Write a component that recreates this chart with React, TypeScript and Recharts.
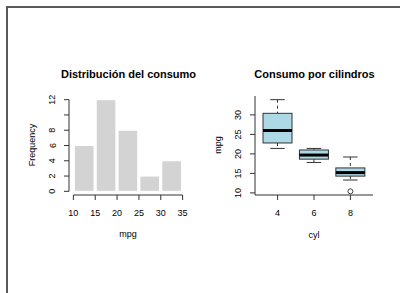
import React from 'react';
import { ComposedChart, Bar, Line, XAxis, YAxis, ReferenceLine } from 'recharts';

// Histogram data (mpg)
const binStarts = [10, 15, 20, 25, 30];
const binWidth = 5;
const histCounts = [6, 12, 8, 2, 4];
const histXTicks = [10, 15, 20, 25, 30, 35];
const histYTicks = [0, 2, 4, 6, 8, 10, 12];
const histYTickLabels = ['0', '2', '4', '6', '8', '', '12'];

// Boxplot data (mpg by cyl)
const cylinders = ['4', '6', '8'];
const whiskerLow = [21.4, 17.8, 13.3];
const lowerHinge = [22.8, 18.65, 14.3];
const medians = [26.0, 19.7, 15.2];
const upperHinge = [30.4, 21.0, 16.4];
const whiskerHigh = [33.9, 21.4, 19.2];
const outliers: (number | null)[] = [null, null, 10.4];
const boxYTicks = [10, 15, 20, 25, 30];

const histData = binStarts.map((s, i) => ({ mid: s + binWidth / 2, count: histCounts[i] }));
const boxData = cylinders.map((cyl, i) => ({
  cyl,
  range: [whiskerLow[i], whiskerHigh[i]],
  lo: whiskerLow[i],
  q1: lowerHinge[i],
  med: medians[i],
  q3: upperHinge[i],
  hi: whiskerHigh[i],
  outlier: outliers[i],
}));

const FONT = '"Liberation Sans", Arial, Helvetica, sans-serif';
const AX = '#333';
const W = 200;
const H = 293;
const MARGIN = { top: 96, right: 13, bottom: 68, left: 29 };
const HIST_X_DOMAIN: [number, number] = [9, 36];
const PLOT_W = W - MARGIN.left - MARGIN.right - 40;
const HIST_BAR_PX = (binWidth * PLOT_W) / (HIST_X_DOMAIN[1] - HIST_X_DOMAIN[0]);

const RotTick = (labels?: string[], values?: number[]) => (props: any) => {
  const { x, y, payload } = props;
  let txt = String(payload.value);
  if (labels && values) {
    const idx = values.indexOf(payload.value);
    if (idx >= 0) txt = labels[idx];
  }
  return (
    <text
      x={x}
      y={y}
      transform={`rotate(-90, ${x}, ${y})`}
      textAnchor="middle"
      fontSize={9}
      fontFamily={FONT}
      fill="#000"
    >
      {txt}
    </text>
  );
};

const BoxShape = (props: any) => {
  const { x, y, width, height, payload } = props;
  if (!payload) return null;
  const { lo, q1, med, q3, hi } = payload;
  const top = Math.min(y, y + height);
  const h = Math.abs(height);
  const py = (v: number) => top + (h * (hi - v)) / (hi - lo);
  const cx = x + width / 2;
  const capHalf = width / 4;
  return (
    <g>
      <line x1={cx} x2={cx} y1={py(hi)} y2={py(q3)} stroke={AX} strokeDasharray="3 3" />
      <line x1={cx} x2={cx} y1={py(q1)} y2={py(lo)} stroke={AX} strokeDasharray="3 3" />
      <line x1={cx - capHalf} x2={cx + capHalf} y1={py(hi)} y2={py(hi)} stroke={AX} />
      <line x1={cx - capHalf} x2={cx + capHalf} y1={py(lo)} y2={py(lo)} stroke={AX} />
      <rect x={x} y={py(q3)} width={width} height={py(q1) - py(q3)} fill="#ADD8E6" stroke={AX} />
      <line x1={x} x2={x + width} y1={py(med)} y2={py(med)} stroke="#000" strokeWidth={3} />
    </g>
  );
};

const Txt = ({ x, y, children, size = 9, bold = false, rotate = false }: any) => (
  <div
    style={{
      position: 'absolute',
      left: x,
      top: y,
      transform: `translate(-50%, -50%)${rotate ? ' rotate(-90deg)' : ''}`,
      fontFamily: FONT,
      fontSize: size,
      fontWeight: bold ? 'bold' : 'normal',
      whiteSpace: 'nowrap',
      color: '#000',
      lineHeight: 1,
    }}
  >
    {children}
  </div>
);

export default function App() {
  return (
    <div
      style={{
        position: 'fixed',
        left: 0,
        top: 0,
        width: 400,
        height: 293,
        background: '#fff',
        overflow: 'hidden',
      }}
    >
      <div
        style={{
          position: 'absolute',
          left: 6,
          top: 6,
          width: 600,
          height: 600,
          borderLeft: '2px solid #5a5a5a',
          borderTop: '2px solid #5a5a5a',
        }}
      />

      {/* Histogram */}
      <div style={{ position: 'absolute', left: 0, top: 0 }}>
        <ComposedChart width={W} height={H} data={histData} margin={MARGIN}>
          <XAxis
            dataKey="mid"
            type="number"
            domain={HIST_X_DOMAIN}
            allowDataOverflow
            ticks={histXTicks}
            interval={0}
            axisLine={false}
            tickLine={{ stroke: AX }}
            tickSize={5}
            tickMargin={10}
            height={30}
            tick={{ fontSize: 9, fontFamily: FONT, fill: '#000' }}
          />
          <YAxis
            type="number"
            domain={[-0.48, 12.48]}
            allowDataOverflow
            ticks={histYTicks}
            interval={0}
            axisLine={false}
            tickLine={{ stroke: AX }}
            tickSize={5}
            tickMargin={8.5}
            width={40}
            tick={RotTick(histYTickLabels, histYTicks)}
          />
          <Bar
            dataKey="count"
            barSize={HIST_BAR_PX}
            fill="#D3D3D3"
            stroke="#ffffff"
            strokeWidth={1}
            isAnimationActive={false}
          />
          <ReferenceLine
            segment={[{ x: 10, y: -0.48 }, { x: 35, y: -0.48 }]}
            stroke={AX}
            ifOverflow="visible"
          />
          <ReferenceLine
            segment={[{ x: 9, y: 0 }, { x: 9, y: 12 }]}
            stroke={AX}
            ifOverflow="visible"
          />
        </ComposedChart>
      </div>

      {/* Boxplot */}
      <div style={{ position: 'absolute', left: 186, top: 0 }}>
        <ComposedChart width={W} height={H} data={boxData} margin={MARGIN} barCategoryGap="10%">
          <XAxis
            xAxisId="x"
            dataKey="cyl"
            type="category"
            padding={{ left: 4.37, right: 4.37 }}
            axisLine={{ stroke: AX }}
            tickLine={{ stroke: AX }}
            tickSize={5}
            tickMargin={10}
            height={30}
            tick={{ fontSize: 9, fontFamily: FONT, fill: '#000' }}
          />
          <XAxis
            xAxisId="top"
            orientation="top"
            dataKey="cyl"
            type="category"
            height={0}
            tick={false}
            tickLine={false}
            axisLine={{ stroke: AX }}
          />
          <YAxis
            yAxisId="y"
            type="number"
            domain={[9.46, 34.84]}
            allowDataOverflow
            ticks={boxYTicks}
            interval={0}
            axisLine={{ stroke: AX }}
            tickLine={{ stroke: AX }}
            tickSize={5}
            tickMargin={8.5}
            width={40}
            tick={RotTick()}
          />
          <YAxis
            yAxisId="r"
            orientation="right"
            type="number"
            domain={[9.46, 34.84]}
            width={0}
            tick={false}
            tickLine={false}
            axisLine={{ stroke: AX }}
          />
          <Bar xAxisId="x" yAxisId="y" dataKey="range" shape={BoxShape} isAnimationActive={false} />
          <Line
            xAxisId="x"
            yAxisId="y"
            dataKey="outlier"
            stroke="none"
            dot={{ r: 2.5, fill: '#fff', stroke: '#444', strokeWidth: 1 }}
            activeDot={false}
            isAnimationActive={false}
          />
        </ComposedChart>
      </div>

      <Txt x={128.5} y={74} size={11} bold>Distribución del consumo</Txt>
      <Txt x={314.5} y={74} size={11} bold>Consumo por cilindros</Txt>
      <Txt x={32} y={145} rotate>Frequency</Txt>
      <Txt x={128} y={234}>mpg</Txt>
      <Txt x={218} y={145} rotate>mpg</Txt>
      <Txt x={314} y={235}>cyl</Txt>
    </div>
  );
}
